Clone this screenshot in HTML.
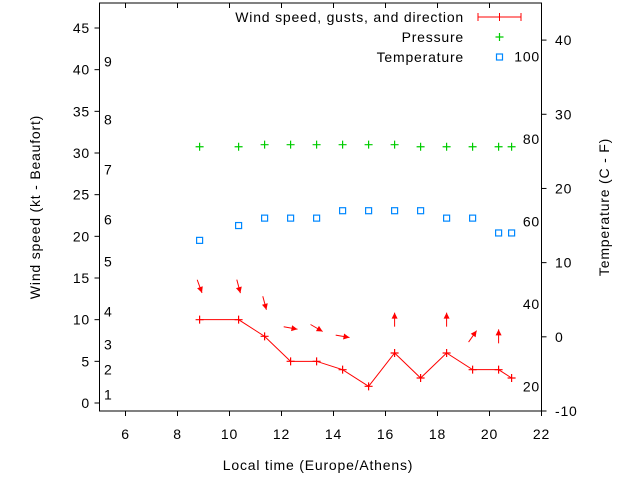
<!DOCTYPE html>
<html><head><meta charset="utf-8"><style>
body{margin:0;background:#fff}
svg{display:block;font-family:"Liberation Sans",sans-serif;font-size:14px;letter-spacing:0.8px}
</style></head><body>
<svg id="c" width="640" height="480" xmlns="http://www.w3.org/2000/svg">
<rect width="640" height="480" fill="#fff"/>
<g id="g"></g>
</svg>
<script>
const times=[8.85,10.35,11.35,12.35,13.35,14.35,15.35,16.35,17.35,18.35,19.35,20.35,20.85];
const wind=[10,10,8,5,5,4,2,6,3,6,4,4,3];
const pressure=[30.75,30.75,31,31,31,31,31,31,30.75,30.75,30.75,30.75,30.75];
const temperature=[13,15,16,16,16,17,17,17,17,16,16,14,14];
const arrowTimes=[8.85,10.35,11.35,12.35,13.35,14.35,16.35,18.35,19.35,20.35];
const arrowLevel=[14,14,12,9,9,8,10,10,8,8];
const arrowBearing=[160,165,165,100,120,100,0,0,35,0];
const xTicks=[6,8,10,12,14,16,18,20,22];
const yTicks=[0,5,10,15,20,25,30,35,40,45];
const y2Ticks=[-10,0,10,20,30,40];
const beaufortKt=[1,4,7,11,17,22,28,34,41];
const beaufortLabels=['1','2','3','4','5','6','7','8','9'];
const fTicks=[20,40,60,80,100];

const L=99.5,R=541.5,T=3,B=411;
const X=t=>L+(t-5)*(R-L)/17;
const Y=v=>B-(v+0.96)*(B-T)/48.96;
const Y2=c=>B-(c+10)*(B-T)/55;
const g=document.getElementById('g');
const NS='http://www.w3.org/2000/svg';
function el(tag,a,name,parent){const e=document.createElementNS(NS,tag);for(const k in a)e.setAttribute(k,a[k]);


(parent||g).appendChild(e);return e;}
function txt(x,y,s,anchor,name,extra){const e=el('text',Object.assign({x:x,y:y,'text-anchor':anchor,fill:'#000'},extra||{}),name);e.textContent=s;return e;}

el('rect',{x:L,y:T,width:R-L,height:B-T,fill:'none',stroke:'#000','stroke-width':1},'plot-frame');
xTicks.forEach(t=>{const x=X(t);
 el('line',{x1:x,y1:B,x2:x,y2:B+5,stroke:'#000'},'x-tick');
 el('line',{x1:x,y1:T,x2:x,y2:T+5,stroke:'#000'},'x-tick-top');
 txt(x,439,String(t),'middle','x-tick-label');});
yTicks.forEach(v=>{const y=Y(v);
 el('line',{x1:L-5,y1:y,x2:L,y2:y,stroke:'#000'},'y-tick');
 txt(90,y+5,String(v),'end','y-tick-label');});
y2Ticks.forEach(c=>{const y=Y2(c);
 el('line',{x1:R,y1:y,x2:R+5,y2:y,stroke:'#000'},'y2-tick');
 txt(555,y+5,String(c),'start','y2-tick-label');});
beaufortKt.forEach((k,i)=>txt(104,Y(k)+5,beaufortLabels[i],'start','beaufort-label'));
fTicks.forEach(f=>txt(540,Y2((f-32)*5/9)+5,String(f),'end','fahrenheit-label'));

txt(318,470,'Local time (Europe/Athens)','middle','x-axis-title');
txt(0,0,'Wind speed (kt - Beaufort)','middle','y-axis-title',{transform:'translate(40,207) rotate(-90)'});
txt(0,0,'Temperature (C - F)','middle','y2-axis-title',{transform:'translate(609,207) rotate(-90)'});

el('polyline',{points:times.map((t,i)=>X(t)+','+Y(wind[i])).join(' '),fill:'none',stroke:'#f00','stroke-width':1},'wind-line');
times.forEach((t,i)=>{const x=X(t),y=Y(wind[i]);
 el('path',{d:`M${x-4},${y}h8M${x},${y-4}v8`,stroke:'#f00','stroke-width':1.2},'wind-point');});
arrowTimes.forEach((t,i)=>{const cx=X(t),cy=Y(arrowLevel[i]);const a=arrowBearing[i]*Math.PI/180;
 const dx=Math.sin(a),dy=-Math.cos(a);const h=7;
 const x1=cx-dx*h,y1=cy-dy*h,x2=cx+dx*h,y2=cy+dy*h;
 const px=-dy,py=dx;
 el('line',{x1:x1,y1:y1,x2:x2,y2:y2,stroke:'#f00','stroke-width':1},'wind-direction-arrow');
 el('polygon',{points:`${x2},${y2} ${x2-dx*6+px*3},${y2-dy*6+py*3} ${x2-dx*6-px*3},${y2-dy*6-py*3}`,fill:'#f00'},'arrow-head');});
times.forEach((t,i)=>{const x=X(t),y=Y(pressure[i]);
 el('path',{d:`M${x-4},${y}h8M${x},${y-4}v8`,stroke:'#0c0','stroke-width':1.2},'pressure-point');});
times.forEach((t,i)=>{const x=X(t),y=Y2(temperature[i]);
 el('rect',{x:x-3,y:y-3,width:6,height:6,fill:'none',stroke:'#08f','stroke-width':1.2},'temperature-point');});
txt(464,22,'Wind speed, gusts, and direction','end','legend-wind');
el('path',{d:'M478,17h43M478,13v8M521,13v8M499.5,13v8',stroke:'#f00','stroke-width':1},'legend-wind-sample');
txt(464,42,'Pressure','end','legend-pressure');
el('path',{d:'M495.5,37h8M499.5,33v8',stroke:'#0c0','stroke-width':1.2},'legend-pressure-sample');
txt(464,62,'Temperature','end','legend-temperature');
el('rect',{x:496.5,y:54,width:6,height:6,fill:'none',stroke:'#08f','stroke-width':1.2},'legend-temperature-sample');
</script>
</body></html>
